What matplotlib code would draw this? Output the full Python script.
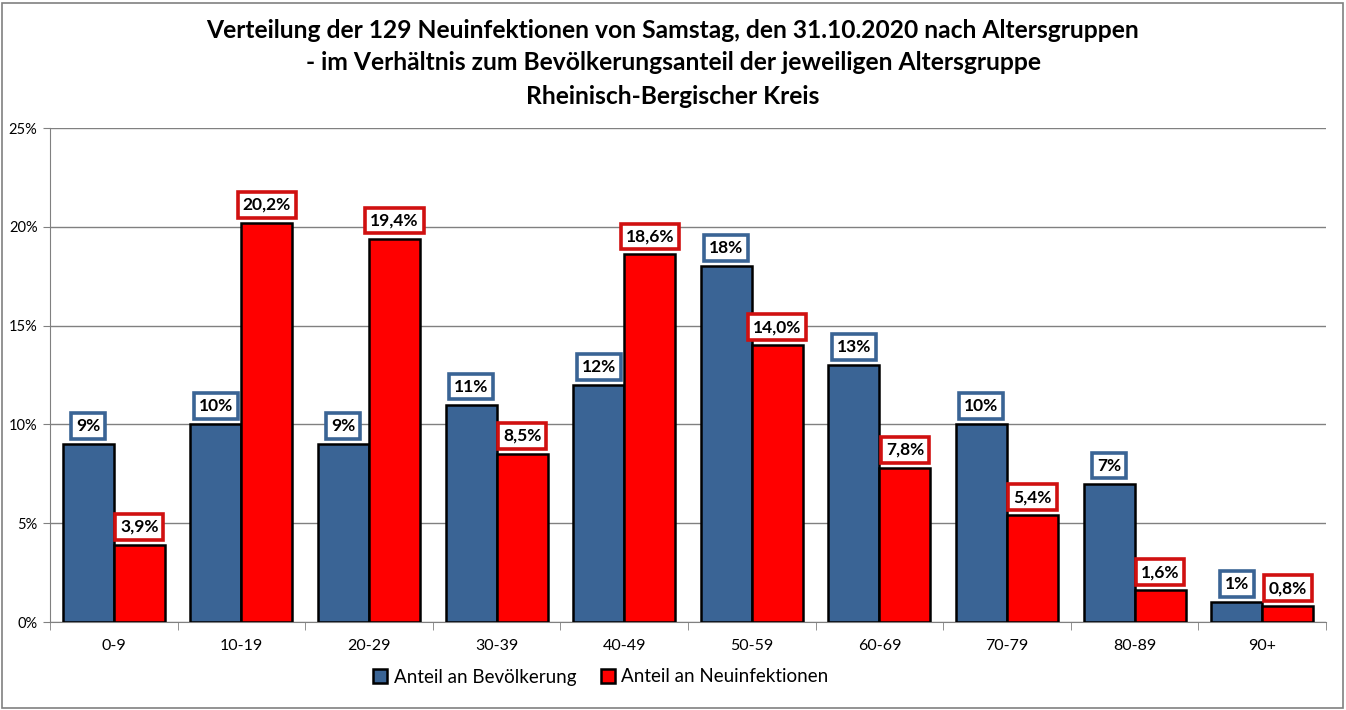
import matplotlib
matplotlib.use("Agg")
import matplotlib.pyplot as plt
import numpy as np
from matplotlib.ticker import FuncFormatter, MultipleLocator
from matplotlib.patches import Rectangle

categories = ["0-9", "10-19", "20-29", "30-39", "40-49", "50-59", "60-69", "70-79", "80-89", "90+"]
bevoelkerung = [9, 10, 9, 11, 12, 18, 13, 10, 7, 1]
neuinfektionen = [3.9, 20.2, 19.4, 8.5, 18.6, 14.0, 7.8, 5.4, 1.6, 0.8]
bev_labels = ["9%", "10%", "9%", "11%", "12%", "18%", "13%", "10%", "7%", "1%"]
neu_labels = ["3,9%", "20,2%", "19,4%", "8,5%", "18,6%", "14,0%", "7,8%", "5,4%", "1,6%", "0,8%"]
series_names = ["Anteil an Bevölkerung", "Anteil an Neuinfektionen"]
title_lines = ["Verteilung der 129 Neuinfektionen von Samstag, den 31.10.2020 nach Altersgruppen",
               "- im Verhältnis zum Bevölkerungsanteil der jeweiligen Altersgruppe",
               "Rheinisch-Bergischer Kreis"]

plt.rcParams['font.family'] = ['Lato', 'DejaVu Sans']

W, H = 1346, 710
fig = plt.figure(figsize=(W/100, H/100), dpi=100)
ax = fig.add_axes([50/W, (H-622)/H, (1326-50)/W, (622-128)/H])

blue = "#3A6495"
red = "#FF0000"
x = np.arange(len(categories))
bw = 0.4
b1 = ax.bar(x - bw/2, bevoelkerung, bw, color=blue, edgecolor="black", linewidth=1.8, label=series_names[0], zorder=3)
b2 = ax.bar(x + bw/2, neuinfektionen, bw, color=red, edgecolor="black", linewidth=1.8, label=series_names[1], zorder=3)

for rect, lab in zip(b1, bev_labels):
    ax.annotate(lab, (rect.get_x() + rect.get_width()/2, rect.get_height()), xytext=(0, 13),
                textcoords="offset points", ha="center", va="center", fontsize=12.5, fontweight="bold",
                bbox=dict(boxstyle="square,pad=0.28", fc="white", ec="#3A6495", lw=2.6), zorder=5)
for rect, lab in zip(b2, neu_labels):
    ax.annotate(lab, (rect.get_x() + rect.get_width()/2, rect.get_height()), xytext=(0, 13),
                textcoords="offset points", ha="center", va="center", fontsize=12.5, fontweight="bold",
                bbox=dict(boxstyle="square,pad=0.28", fc="white", ec="#D01010", lw=2.6), zorder=5)

ax.set_xlim(-0.5, len(categories) - 0.5)
ax.set_ylim(0, 25)
ax.yaxis.set_major_locator(MultipleLocator(5))
ax.yaxis.set_major_formatter(FuncFormatter(lambda v, p: f"{v:.0f}%"))
ax.set_xticks(x)
ax.set_xticklabels(categories)
ax.set_xticks(np.arange(-0.5, len(categories)), minor=True)
ax.tick_params(axis="x", which="major", length=0, pad=12, labelsize=11.5)
ax.tick_params(axis="x", which="minor", length=6, color="#808080")
ax.tick_params(axis="y", length=5, color="#808080", labelsize=10.5, pad=4)
ax.grid(axis="y", color="#808080", linewidth=1, zorder=0)
for s in ["top", "right"]:
    ax.spines[s].set_visible(False)
ax.spines["left"].set_color("#808080")
ax.spines["bottom"].set_color("#808080")

for line, ypix in zip(title_lines, [30, 63, 96]):
    fig.text(0.5, 1 - ypix/H, line, ha="center", va="center", fontsize=17.75, fontweight="bold")

fig.legend(handles=[b1, b2], labels=series_names, loc="center", bbox_to_anchor=(601/W, (H-677)/H),
           ncol=2, frameon=False, fontsize=13.5, handlelength=0.75, handleheight=0.75,
           columnspacing=1.3, handletextpad=0.35)

fig.patches.append(Rectangle((2/W, 2/H), (W-5)/W, (H-5)/H, transform=fig.transFigure,
                             fill=False, edgecolor="#808080", linewidth=1.2))

fig.savefig("out.png", dpi=100)
